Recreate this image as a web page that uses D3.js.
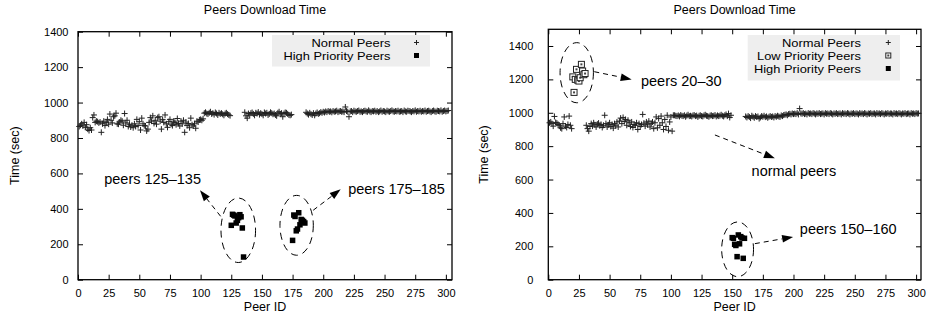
<!DOCTYPE html>
<html>
<head>
<meta charset="utf-8">
<script src="https://cdn.jsdelivr.net/npm/d3@7"></script>
<style>
  body { margin: 0; background: #fff; }
  svg text { font-family: "Liberation Sans", Arial, Helvetica, sans-serif; fill: #000; }
</style>
</head>
<body>
<div id="chart"></div>
<script>

// ---- data ----
const xTicks = [0, 25, 50, 75, 100, 125, 150, 175, 200, 225, 250, 275, 300];
const yTicks = [0, 200, 400, 600, 800, 1000, 1200, 1400];

// left chart, normal peers, by consecutive peer id runs
const leftNormalA = [ // peers 1-102
  865, 872, 880, 868, 888, 860, 875, 850, 842, 858,
  845, 915, 930, 888, 895, 892, 885, 890, 832, 880,
  895, 870, 888, 905, 878, 935, 900, 885, 920, 925,
  940, 880, 878, 890, 900, 895, 872, 938, 885, 900,
  865, 878, 862, 872, 858, 880, 865, 905, 870, 892,
  845, 912, 880, 870, 868, 840, 850, 888, 915, 895,
  925, 882, 900, 878, 915, 920, 895, 850, 905, 888,
  930, 880, 860, 892, 905, 878, 870, 895, 888, 875,
  910, 882, 868, 895, 880, 900, 832, 890, 870, 882,
  858, 912, 875, 868, 880, 855, 895, 890, 902, 905,
  900, 908];
const leftNormalB = [ // peers 103-124
  940, 945, 938, 935, 942, 948, 936, 940, 932, 944, 938,
  930, 942, 936, 940, 934, 928, 938, 942, 935, 930, 926];
const leftNormalC = [ // peers 136-174
  945, 925, 912, 938, 930, 940, 944, 936, 928, 942, 938, 946, 932,
  940, 935, 928, 944, 938, 942, 930, 936, 945, 940, 934, 938, 930,
  925, 942, 948, 936, 940, 920, 938, 944, 942, 936, 930, 928, 932];
const leftNormalD = [ // peers 186-302
  945, 938, 932, 942, 935, 930, 940, 928, 938, 944, 936, 940, 946, 942, 948,
  944, 950, 946, 952, 948, 950, 945, 952, 948, 950, 954, 946, 950, 952, 948, 950, 946, 975, 952, 948,
  920, 950, 952, 946, 954, 950, 948, 952, 955, 948, 950, 946, 952, 954, 950, 948, 956, 950, 946, 952,
  950, 954, 948, 952, 946, 950, 955, 948, 952, 950, 946, 954, 950, 948, 952, 956, 950, 948, 952, 950,
  954, 948, 950, 952, 946, 955, 950, 948, 954, 952, 950, 946, 952, 950, 956, 948, 952, 950, 954, 948,
  952, 950, 955, 948, 952, 954, 950, 946, 952, 955, 950, 948, 954, 952, 950, 956, 948, 952, 955, 950, 953, 955];
const leftHighIds = [125, 126, 127, 128, 129, 130, 131, 132, 133, 134, 135,
                     175, 176, 177, 178, 179, 180, 181, 182, 183, 184, 185];
const leftHighVals = [307, 369, 365, 360, 320, 335, 350, 367, 355, 292, 128,
                      222, 365, 357, 276, 286, 378, 310, 340, 335, 328, 320];

// right chart
const rightNormalA = [ // peers 1-19
  940, 945, 935, 920, 978, 942, 938, 930, 925, 910,
  905, 935, 975, 920, 912, 930, 980, 925, 905];
const rightNormalB = [ // peers 31-102
  925, 905, 890, 918, 935, 920, 940, 928, 915, 932,
  938, 922, 930, 912, 925, 985, 935, 915, 928, 940,
  918, 930, 908, 935, 922, 945, 915, 950, 968, 935,
  972, 948, 960, 925, 955, 940, 918, 945, 912, 930,
  925, 940, 900, 935, 918, 930, 990, 938, 920, 945,
  928, 950, 915, 935, 945, 905, 940, 975, 910, 965,
  925, 980, 940, 900, 960, 918, 985, 895, 945, 975,
  890, 985];
const rightNormalC = [ // peers 103-149
  985, 982, 980, 984, 978, 986, 982, 980, 985, 976, 983, 988, 980, 982, 978, 984,
  986, 980, 983, 975, 982, 985, 980, 978, 984, 988, 982, 980, 976, 983, 985, 980,
  982, 986, 978, 984, 980, 983, 988, 982, 978, 985, 990, 980, 995, 972, 985];
const rightNormalD = [ // peers 161-302
  978, 972, 980, 975, 968, 982, 976, 970, 980, 975, 978, 965, 972, 980, 976, 982, 974, 978, 970, 976,
  980, 975, 978, 972, 980, 976, 982, 978, 975, 984, 980, 986, 988, 990, 985, 992, 994, 990, 996, 992,
  995, 992, 998, 990, 1025, 996, 994, 998, 992, 995, 990, 998, 994, 996, 992, 998, 995, 990, 996, 994,
  998, 992, 995, 996, 990, 998, 994, 996, 992, 998, 995, 990, 996, 994, 998, 992, 995, 996, 990, 998,
  994, 996, 992, 998, 995, 990, 996, 994, 998, 992, 996, 995, 990, 998, 994, 996, 992, 998, 995, 990,
  996, 994, 998, 992, 995, 996, 990, 998, 994, 996, 992, 998, 995, 990, 996, 994, 998, 992, 996, 995,
  990, 998, 994, 996, 992, 998, 995, 990, 996, 994, 998, 992, 995, 996, 990, 998, 994, 996, 992, 998, 995, 996];
const rightLowIds = [20, 21, 22, 23, 24, 25, 26, 27, 28, 29, 30];
const rightLowVals = [1215, 1122, 1200, 1260, 1195, 1190, 1210, 1290, 1250, 1228, 1235];
const rightHighIds = [150, 151, 152, 153, 154, 155, 156, 157, 158, 159, 160];
const rightHighVals = [252, 248, 212, 205, 138, 268, 215, 258, 250, 128, 248];

// helpers to turn the runs into points
function run(start, vals) { return vals.map((v, i) => ({id: start + i, v: v})); }
function pairs(ids, vals) { return ids.map((id, i) => ({id: id, v: vals[i]})); }

const svg = d3.select("#chart").append("svg")
    .attr("width", 929)
    .attr("height", 324);

function drawPanel(cfg) {
    let g = svg.append("g");

    let x = d3.scaleLinear().domain([0, cfg.xMax]).range([cfg.left, cfg.right]);
    let y = d3.scaleLinear().domain([0, cfg.yMax]).range([cfg.bottom, cfg.top]);

    // title + axis labels
    g.append("text")
        .attr("x", (cfg.left + cfg.right) / 2).attr("y", 14)
        .attr("text-anchor", "middle").style("font-size", "12.5px")
        .text("Peers Download Time");
    g.append("text")
        .attr("x", (cfg.left + cfg.right) / 2).attr("y", 311)
        .attr("text-anchor", "middle").style("font-size", "12.5px")
        .text("Peer ID");
    g.append("text")
        .attr("transform", "translate(" + cfg.yLabelX + "," + ((cfg.top + cfg.bottom) / 2) + ") rotate(-90)")
        .attr("text-anchor", "middle").style("font-size", "12.5px")
        .text("Time (sec)");

    // axes with inward ticks, mirrored on top/right
    let bottom = g.append("g").attr("transform", "translate(0," + cfg.bottom + ")")
        .call(d3.axisBottom(x).tickValues(xTicks).tickSizeInner(-5).tickSizeOuter(0).tickPadding(10));
    let leftAx = g.append("g").attr("transform", "translate(" + cfg.left + ",0)")
        .call(d3.axisLeft(y).tickValues(yTicks).tickFormat(d3.format("d"))
            .tickSizeInner(-5).tickSizeOuter(0).tickPadding(cfg.yPad));
    let topAx = g.append("g").attr("transform", "translate(0," + cfg.top + ")")
        .call(d3.axisTop(x).tickValues(xTicks).tickSizeInner(-5).tickSizeOuter(0).tickFormat(""));
    let rightAx = g.append("g").attr("transform", "translate(" + cfg.right + ",0)")
        .call(d3.axisRight(y).tickValues(yTicks).tickSizeInner(-5).tickSizeOuter(0).tickFormat(""));
    [bottom, leftAx, topAx, rightAx].forEach(a => {
        a.select(".domain").remove();
        a.selectAll("line").attr("stroke", "#000").attr("stroke-width", 1);
        a.selectAll("text").style("font-size", "11px")
            .style("font-family", '"Liberation Sans", Arial, Helvetica, sans-serif');
    });

    g.append("rect")
        .attr("x", cfg.left).attr("y", cfg.top)
        .attr("width", cfg.right - cfg.left).attr("height", cfg.bottom - cfg.top)
        .attr("fill", "none").attr("stroke", "#000").attr("stroke-width", 1.3);

    // legend (text stretched a little to the width it has in the picture)
    let lg = cfg.legend;
    g.append("rect")
        .attr("x", lg.x).attr("y", lg.y).attr("width", lg.w).attr("height", lg.h)
        .attr("fill", "#eeeeee");
    lg.items.forEach((name, i) => {
        let cy = lg.y + 7.5 + i * 13;
        g.append("text")
            .attr("x", lg.textX).attr("y", cy + 4.2)
            .attr("text-anchor", "end").style("font-size", "11.6px")
            .attr("textLength", lg.widths[i]).attr("lengthAdjust", "spacingAndGlyphs")
            .text(name);
        drawMark(g, lg.kinds[i], lg.symX, cy, true);
    });

    // points
    cfg.series.forEach(s => {
        s.points.forEach(p => drawMark(g, s.kind, x(p.id), y(p.v), false));
    });

    // ellipses
    cfg.ellipses.forEach(e => {
        g.append("ellipse")
            .attr("cx", x(e.cx)).attr("cy", y(e.cy))
            .attr("rx", x(e.cx + e.rx) - x(e.cx))
            .attr("ry", y(e.cy - e.ry) - y(e.cy))
            .attr("fill", "none").attr("stroke", "#000")
            .attr("stroke-width", 1).attr("stroke-dasharray", "7,5");
    });

    // arrows + notes
    cfg.arrows.forEach(a => arrow(g, x(a.from[0]), y(a.from[1]), x(a.to[0]), y(a.to[1])));
    cfg.notes.forEach(n => {
        g.append("text")
            .attr("x", x(n.id)).attr("y", y(n.v))
            .style("font-size", "14.5px")
            .text(n.text);
    });
}

function drawMark(g, kind, cx, cy, inLegend) {
    if (kind === "plus") {
        let r = inLegend ? 2.5 : 3;
        g.append("path")
            .attr("d", "M" + (cx - r) + "," + cy + "H" + (cx + r) + "M" + cx + "," + (cy - r) + "V" + (cy + r))
            .attr("stroke", "#222").attr("stroke-width", 1);
    } else if (kind === "high") {
        let s = inLegend ? 5 : 5.5;
        g.append("rect")
            .attr("x", cx - s / 2).attr("y", cy - s / 2).attr("width", s).attr("height", s)
            .attr("fill", "#000");
    } else if (kind === "low") {
        let s = inLegend ? 5 : 6;
        g.append("rect")
            .attr("x", cx - s / 2).attr("y", cy - s / 2).attr("width", s).attr("height", s)
            .attr("fill", "#fff").attr("stroke", "#222").attr("stroke-width", 1);
        g.append("rect")
            .attr("x", cx - 1).attr("y", cy - 1).attr("width", 2).attr("height", 2)
            .attr("fill", "#444");
    }
}

function arrow(g, x1, y1, x2, y2) {
    let ang = Math.atan2(y2 - y1, x2 - x1);
    let L = 11, w = 3.8;
    let c = Math.cos(ang), s = Math.sin(ang);
    let bx = x2 - L * c, by = y2 - L * s;
    g.append("line")
        .attr("x1", x1).attr("y1", y1).attr("x2", bx).attr("y2", by)
        .attr("stroke", "#000").attr("stroke-width", 1).attr("stroke-dasharray", "5,4");
    g.append("path")
        .attr("d", "M" + x2 + "," + y2 + "L" + (bx - w * s) + "," + (by + w * c) + "L" + (bx + w * s) + "," + (by - w * c) + "Z")
        .attr("fill", "#000");
}

// left chart
drawPanel({
    left: 78, right: 452, top: 31.7, bottom: 279.7,
    xMax: 305, yMax: 1400, yPad: 9.5, yLabelX: 19,
    legend: {x: 272, y: 35, w: 158, h: 31.5, textX: 390.5, symX: 416.5,
             items: ["Normal Peers", "High Priority Peers"], kinds: ["plus", "high"],
             widths: [79, 107]},
    series: [
        {kind: "plus", points: [].concat(run(1, leftNormalA), run(103, leftNormalB), run(136, leftNormalC), run(186, leftNormalD))},
        {kind: "high", points: pairs(leftHighIds, leftHighVals)}
    ],
    ellipses: [
        {cx: 130.7, cy: 279, rx: 14.1, ry: 182},
        {cx: 178.3, cy: 307, rx: 13.6, ry: 169}
    ],
    arrows: [
        {from: [116.3, 358], to: [99.5, 505]},
        {from: [191.8, 392], to: [214.2, 510]}
    ],
    notes: [
        {id: 21.4, v: 542, text: "peers 125\u2013135"},
        {id: 220.3, v: 485, text: "peers 175\u2013185"}
    ]
});

// right chart
drawPanel({
    left: 548.3, right: 921, top: 29.3, bottom: 279.7,
    xMax: 304, yMax: 1500, yPad: 15, yLabelX: 488,
    legend: {x: 747.7, y: 35, w: 152.3, h: 45.5, textX: 861, symX: 888.3,
             items: ["Normal Peers", "Low Priority Peers", "High Priority Peers"], kinds: ["plus", "low", "high"],
             widths: [79, 104, 107]},
    series: [
        {kind: "plus", points: [].concat(run(1, rightNormalA), run(31, rightNormalB), run(103, rightNormalC), run(161, rightNormalD))},
        {kind: "low", points: pairs(rightLowIds, rightLowVals)},
        {kind: "high", points: pairs(rightHighIds, rightHighVals)}
    ],
    ellipses: [
        {cx: 23.2, cy: 1240, rx: 13.6, ry: 180},
        {cx: 154.4, cy: 182, rx: 13, ry: 164}
    ],
    arrows: [
        {from: [37.5, 1246], to: [68, 1200]},
        {from: [135.9, 867], to: [184.8, 727]},
        {from: [168.5, 216], to: [199.7, 256]}
    ],
    notes: [
        {id: 75.6, v: 1162, text: "peers 20\u201330"},
        {id: 165.8, v: 619, text: "normal peers"},
        {id: 205.2, v: 276, text: "peers 150\u2013160"}
    ]
});

</script>
</body>
</html>
